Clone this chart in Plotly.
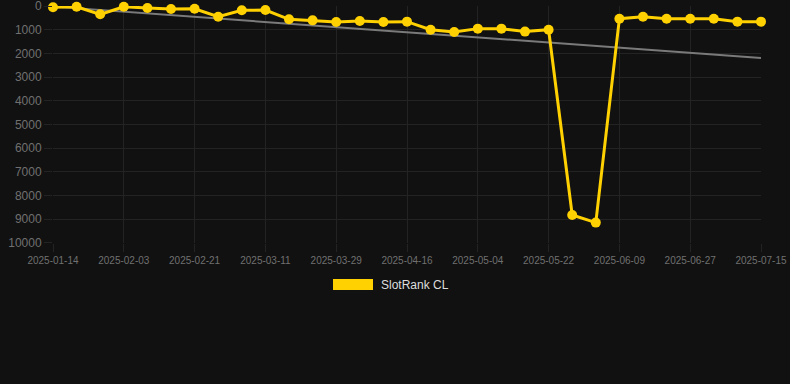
import plotly.graph_objects as go

dates = [
    "2025-01-14", "2025-01-21", "2025-01-28", "2025-02-03", "2025-02-09", "2025-02-15",
    "2025-02-21", "2025-02-27", "2025-03-05", "2025-03-11", "2025-03-17", "2025-03-23",
    "2025-03-29", "2025-04-04", "2025-04-10", "2025-04-16", "2025-04-22", "2025-04-28",
    "2025-05-04", "2025-05-10", "2025-05-16", "2025-05-22", "2025-05-28", "2025-06-03",
    "2025-06-09", "2025-06-15", "2025-06-21", "2025-06-27", "2025-07-03", "2025-07-09",
    "2025-07-15",
]
rank = [
    55, 30, 350, 30, 85, 125, 115, 450, 180, 170, 560, 605, 675, 630, 675,
    660, 1000, 1100, 955, 955, 1080, 1000, 8820, 9140, 535, 450, 535, 535, 535,
    660, 660,
]
trend_x = [dates[0], dates[-1]]
trend_y = [25, 2190]
tick_labels = dates[::3]
y_ticks = [0, 1000, 2000, 3000, 4000, 5000, 6000, 7000, 8000, 9000, 10000]
y_tick_text = [str(v) for v in y_ticks]

BG = "#111111"
GRID = "#232323"
GOLD = "#FFD100"

fig = go.Figure()
fig.add_trace(go.Scatter(
    x=trend_x, y=trend_y, mode="lines",
    line=dict(color="#7a7a7a", width=2), showlegend=False, hoverinfo="skip",
    cliponaxis=False,
))
fig.add_trace(go.Scatter(
    x=dates, y=rank, mode="lines+markers", name="SlotRank CL",
    line=dict(color=GOLD, width=3), marker=dict(color=GOLD, size=10),
    showlegend=False, cliponaxis=False,
))

fig.update_layout(
    width=790, height=384,
    margin=dict(l=53, r=29, t=6, b=141, autoexpand=False),
    paper_bgcolor=BG, plot_bgcolor=BG,
    font=dict(family="Liberation Sans, Arial, sans-serif", color="#707070"),
    xaxis=dict(
        type="category", categoryorder="array", categoryarray=dates,
        range=[0, len(dates) - 1], automargin=False,
        tickmode="array", tickvals=tick_labels, ticktext=tick_labels,
        tickangle=0, ticklabeloverflow="allow",
        showgrid=True, gridcolor=GRID, gridwidth=1, zeroline=False,
        showline=False, ticks="outside", ticklen=8, tickcolor=GRID,
        tickfont=dict(size=10, color="#707070"),
    ),
    yaxis=dict(
        range=[10000.5, -0.5], tickmode="array", tickvals=y_ticks, ticktext=y_tick_text,
        ticklabeloverflow="allow", automargin=False,
        showgrid=True, gridcolor=GRID, gridwidth=1, zeroline=False,
        showline=False, ticks="outside", ticklen=8, tickcolor=GRID,
        tickfont=dict(size=12, color="#707070"),
    ),
    shapes=[dict(
        type="rect", xref="paper", yref="paper",
        x0=(333 - 53) / 708, x1=(373 - 53) / 708,
        y0=(243 - 290) / 237, y1=(243 - 279) / 237,
        fillcolor=GOLD, line=dict(width=0),
    )],
    annotations=[dict(
        text="SlotRank CL", xref="paper", yref="paper",
        x=(379 - 53) / 708, y=(243 - 284.5) / 237,
        xanchor="left", yanchor="middle", showarrow=False,
        font=dict(size=12, color="#dddddd"),
    )],
)

fig.write_html(
    "out.html",
    config={"displayModeBar": False},
    post_script="document.body.style.margin='0';document.body.style.background='#111111';",
)
